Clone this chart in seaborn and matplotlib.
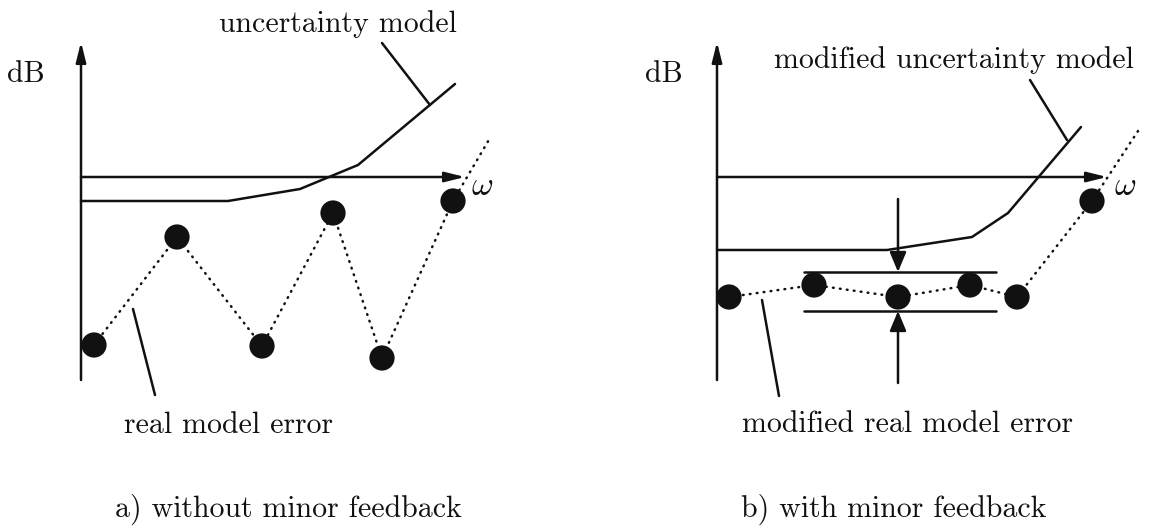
import numpy as np
import pandas as pd
import matplotlib
matplotlib.use("Agg")
import matplotlib.pyplot as plt
import seaborn as sns

# --- DIAGRAM VALUES (local units: x from the dB axis, y up from the omega axis) ---
# panel a) without minor feedback
a_unc_x = [0, 147, 219, 277, 374]
a_unc_y = [-24, -24, -12, 12, 93]
a_err_x = [13, 96, 181, 252, 301, 372]
a_err_y = [-168, -60, -169, -36, -181, -24]
a_tail_x = [372, 409]
a_tail_y = [-24, 39]
a_lead_unc = ([301, 349], [134, 72])
a_lead_err = ([52, 74], [-132, -218])
a_axis_len = (384, 135, -203)   # x tip, y tip, y bottom

# panel b) with minor feedback
b_unc_x = [0, 170, 255, 291, 364]
b_unc_y = [-73, -73, -60, -36, 50]
b_err_x = [12, 97, 181, 253, 300, 375]
b_err_y = [-120, -108, -120, -108, -120, -24]
b_tail_x = [375, 423]
b_tail_y = [-24, 49]
b_lead_unc = ([313, 350], [97, 37])
b_lead_err = ([45, 62], [-123, -219])
b_band_x = [87, 279]
b_band_y = [-95, -134]
b_arrow_x = 181
b_axis_len = (390, 135, -203)

labels_a = {"unc": "uncertainty model", "err": "real model error",
            "cap": "a) without minor feedback"}
labels_b = {"unc": "modified uncertainty model", "err": "modified real model error",
            "cap": "b) with minor feedback"}

# --- STYLE ---
sns.set_theme(style="white")
plt.rcParams['font.family'] = ['cmr10', 'DejaVu Serif']
plt.rcParams['mathtext.fontset'] = 'cm'
plt.rcParams['axes.formatter.use_mathtext'] = True
INK = "#111111"
LW = 1.8
FS = 21.5
DOTTED = (0, (0.3, 2.5))


def arrow(ax, start, tip, width=0.15):
    ax.annotate("", xy=tip, xytext=start,
                arrowprops=dict(arrowstyle=f"-|>,head_length=0.6,head_width={width}",
                                mutation_scale=20, lw=LW, color=INK,
                                shrinkA=0, shrinkB=0))


def line(ax, x, y, **kw):
    sns.lineplot(x=x, y=y, ax=ax, color=INK, lw=LW, sort=False,
                 estimator=None, legend=False, **kw)


def draw_panel(ax, unc_x, unc_y, err_x, err_y, tail_x, tail_y,
               lead_unc, lead_err, axis_len):
    xt, yt, yb = axis_len
    arrow(ax, (0, yb), (0, yt))
    arrow(ax, (0, 0), (xt, 0))
    line(ax, unc_x, unc_y)
    line(ax, err_x + tail_x[1:], err_y + tail_y[1:],
         linestyle=DOTTED, dash_capstyle='round')
    sns.scatterplot(x=err_x, y=err_y, ax=ax, s=330, color=INK,
                    edgecolor='none', zorder=3, legend=False)
    line(ax, *lead_unc)
    line(ax, *lead_err)


fig = plt.figure(figsize=(11.52, 5.26), dpi=100)
ax_a = fig.add_axes([0, 0, 0.5, 1])
ax_b = fig.add_axes([0.5, 0, 0.5, 1])
ax_a.set_xlim(-81, 495)
ax_b.set_xlim(-141, 435)
for ax in (ax_a, ax_b):
    ax.set_ylim(-349, 177)
    ax.axis('off')

draw_panel(ax_a, a_unc_x, a_unc_y, a_err_x, a_err_y, a_tail_x, a_tail_y,
           a_lead_unc, a_lead_err, a_axis_len)
draw_panel(ax_b, b_unc_x, b_unc_y, b_err_x, b_err_y, b_tail_x, b_tail_y,
           b_lead_unc, b_lead_err, b_axis_len)

# error band with the two arrows pointing at it
for yb in b_band_y:
    line(ax_b, b_band_x, [yb, yb])
arrow(ax_b, (b_arrow_x, -22), (b_arrow_x, b_band_y[0]), width=0.25)
arrow(ax_b, (b_arrow_x, -206), (b_arrow_x, b_band_y[1]), width=0.25)

# texts
txt = dict(fontsize=FS, color=INK, ha='center', va='baseline')
om = dict(txt, fontsize=24)
ax_a.text(-55, 95, "dB", **txt)
ax_a.text(401, -18, r"$\omega$", **om)
ax_a.text(257, 145, labels_a["unc"], **txt)
ax_a.text(147, -256, labels_a["err"], **txt)
ax_a.text(207, -340, labels_a["cap"], **txt)

ax_b.text(-53, 95, "dB", **txt)
ax_b.text(408, -18, r"$\omega$", **om)
ax_b.text(237, 109, labels_b["unc"], **txt)
ax_b.text(190, -255, labels_b["err"], **txt)
ax_b.text(177, -340, labels_b["cap"], **txt)

plt.savefig("out.png", dpi=100)
plt.close()
